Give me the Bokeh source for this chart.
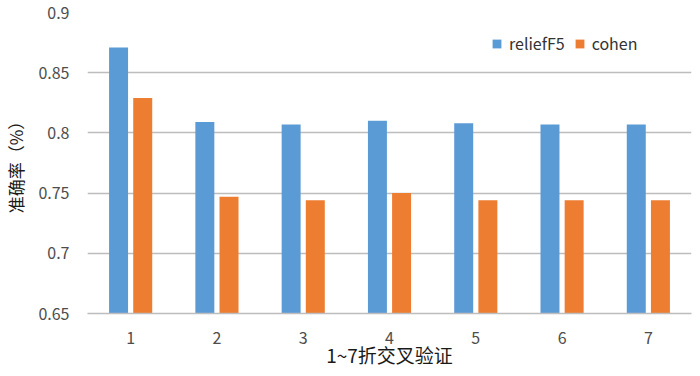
from bokeh.plotting import figure
from bokeh.models import ColumnDataSource, FactorRange, Range1d, Legend, LegendItem, FixedTicker
from bokeh.transform import dodge
from bokeh.embed import file_html
from bokeh.resources import INLINE

folds = ["1", "2", "3", "4", "5", "6", "7"]
relief = [0.871, 0.809, 0.807, 0.810, 0.808, 0.807, 0.807]
cohen = [0.829, 0.747, 0.744, 0.750, 0.744, 0.744, 0.744]
y_ticks = [0.65, 0.7, 0.75, 0.8, 0.85, 0.9]

FONT = "Noto Sans CJK SC"
BLUE = "#5B9BD5"
ORANGE = "#ED7D31"

src = ColumnDataSource(dict(x=folds, relief=relief, cohen=cohen))

p = figure(width=700, height=376, x_range=FactorRange(*folds), y_range=Range1d(0.65, 0.9),
           output_backend="svg", toolbar_location=None,
           min_border_left=83, min_border_right=9, min_border_top=12, min_border_bottom=63)
p.outline_line_color = None
p.background_fill_color = "white"

r1 = p.vbar(x=dodge("x", -0.14, range=p.x_range), top="relief", bottom=0.65, width=0.22,
            source=src, fill_color=BLUE, line_color=None)
r2 = p.vbar(x=dodge("x", 0.14, range=p.x_range), top="cohen", bottom=0.65, width=0.22,
            source=src, fill_color=ORANGE, line_color=None)

p.xgrid.grid_line_color = None
p.ygrid.grid_line_color = "#BDBDBD"
p.ygrid.grid_line_width = 1.6
p.yaxis.ticker = FixedTicker(ticks=y_ticks)

for ax in (p.xaxis[0], p.yaxis[0]):
    ax.major_tick_line_color = None
    ax.minor_tick_line_color = None
    ax.major_label_text_font = FONT
    ax.major_label_text_font_size = "16px"
    ax.major_label_text_color = "#4D4D4D"
    ax.axis_label_text_font = FONT
    ax.axis_label_text_font_style = "normal"
    ax.axis_label_text_color = "#1A1A1A"

p.yaxis.axis_line_color = None
p.xaxis.axis_line_color = "#BDBDBD"
p.xaxis.axis_line_width = 1.6
p.yaxis.major_label_standoff = 12
p.xaxis.major_label_standoff = 12

p.yaxis.axis_label = "准确率（%）"
p.yaxis.axis_label_text_font_size = "17px"
p.yaxis.axis_label_standoff = 7
p.xaxis.axis_label = "1~7折交叉验证"
p.xaxis.axis_label_text_font_size = "19px"
p.xaxis.axis_label_standoff = -6

legend = Legend(items=[LegendItem(label="reliefF5", renderers=[r1]),
                       LegendItem(label="cohen", renderers=[r2])],
                location=(404, 258), orientation="horizontal")
legend.border_line_color = None
legend.background_fill_alpha = 0
legend.padding = 0
legend.margin = 0
legend.spacing = 9
legend.glyph_width = 11
legend.glyph_height = 11
legend.label_standoff = 7
legend.label_text_font = FONT
legend.label_text_font_size = "16px"
legend.label_text_color = "#333333"
p.add_layout(legend)

open("out.html", "w").write(file_html(p, INLINE))
